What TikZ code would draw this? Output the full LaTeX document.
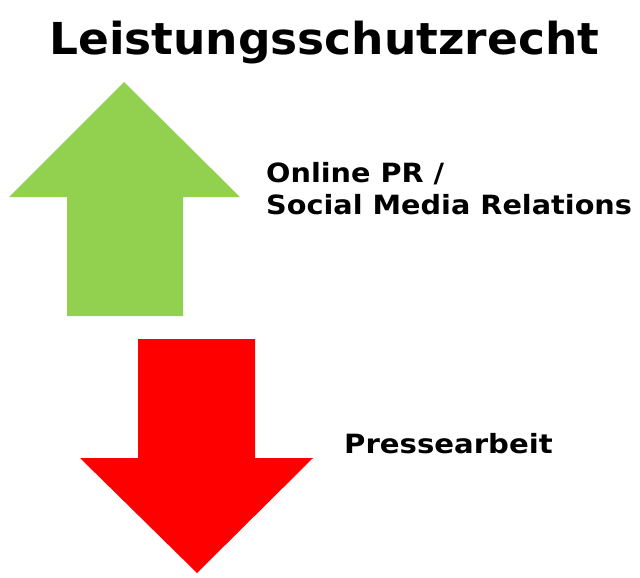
\documentclass[tikz,border=0pt]{standalone}
\usepackage{fontspec}
\setmainfont{DejaVu Sans}
\definecolor{upgreen}{HTML}{92D050}
\definecolor{downred}{HTML}{FF0000}
\begin{document}
\begin{tikzpicture}[x=1pt,y=-1pt,
  lbl/.style={anchor=base west,inner sep=0pt,font=\bfseries}]
\useasboundingbox (0,0) rectangle (640,578);
\fill[upgreen] (124,82) -- (240,197) -- (183,197) -- (183,316) -- (67,316) -- (67,197) -- (9,197) -- cycle;
\fill[downred] (138,339) -- (255,339) -- (255,458) -- (313,458) -- (197,573) -- (80,458) -- (138,458) -- cycle;
\node[lbl,font=\bfseries\fontsize{44}{50}\selectfont] (title) at (49,55) {\scalebox{1.034}[1]{Leistungsschutzrecht}};
\node[lbl,font=\bfseries\fontsize{26.5}{32}\selectfont] (on) at (266,182) {\scalebox{1.083}[1]{Online PR /}};
\node[lbl,font=\bfseries\fontsize{26.5}{32}\selectfont] (sm) at (266,214) {\scalebox{1.083}[1]{Social Media Relations}};
\node[lbl,font=\bfseries\fontsize{26.5}{32}\selectfont] (pa) at (344,453) {\scalebox{1.10}[1]{Pressearbeit}};
\end{tikzpicture}
\end{document}
